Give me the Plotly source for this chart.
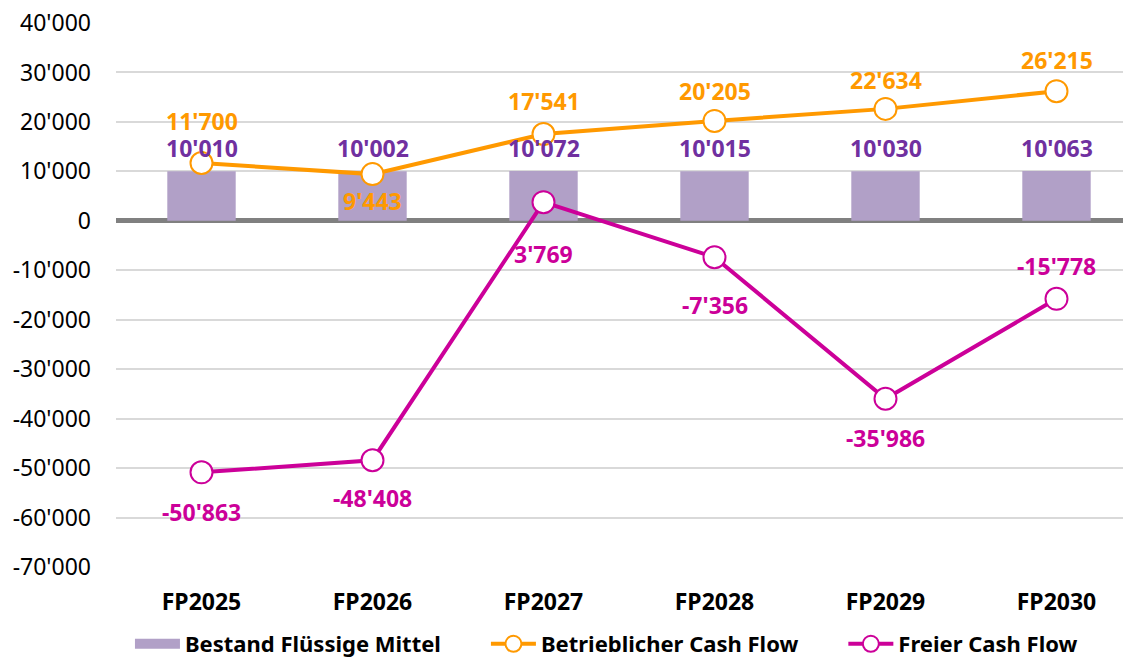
import plotly.graph_objects as go

categories = ["FP2025", "FP2026", "FP2027", "FP2028", "FP2029", "FP2030"]
bestand = [10010, 10002, 10072, 10015, 10030, 10063]
betrieb = [11700, 9443, 17541, 20205, 22634, 26215]
freier = [-50863, -48408, 3769, -7356, -35986, -15778]
tick_vals = [40000, 30000, 20000, 10000, 0, -10000, -20000, -30000, -40000, -50000, -60000, -70000]
series_names = ["Bestand Flüssige Mittel", "Betrieblicher Cash Flow", "Freier Cash Flow"]

# label offsets in pixels (positive = above)
betrieb_shift = [42, -27, 33, 30, 29, 31]
freier_shift = [-40, -38, -52, -48, -39, 33]

def fmt(v):
    s = f"{abs(v):,}".replace(",", "'")
    return ("-" if v < 0 else "") + s

FONT = "Noto Sans"
ORANGE = "#FF9900"
MAGENTA = "#CC0099"
PURPLE = "#7030A0"
BARCOL = "#B1A0C7"
PAD = "\u00a0" * 7  # spacing between legend entries

fig = go.Figure()
fig.add_trace(go.Bar(x=categories, y=bestand, name=series_names[0],
                     marker=dict(color=BARCOL, line=dict(width=0)), width=0.4,
                     showlegend=False, legendgroup="b"))
# legend entry for bars (wide swatch)
fig.add_trace(go.Scatter(x=[None], y=[None], name=series_names[0] + PAD, mode="lines",
                         line=dict(color=BARCOL, width=17), legendgroup="b"))
fig.add_trace(go.Scatter(x=categories, y=betrieb, name=series_names[1] + PAD,
                         mode="lines+markers", line=dict(color=ORANGE, width=4),
                         marker=dict(size=22, color="white", line=dict(color=ORANGE, width=2))))
fig.add_trace(go.Scatter(x=categories, y=freier, name=series_names[2],
                         mode="lines+markers", line=dict(color=MAGENTA, width=4),
                         marker=dict(size=22, color="white", line=dict(color=MAGENTA, width=2))))

ann = []
for c, v in zip(categories, bestand):
    ann.append(dict(x=c, y=v, text=f"<b>{fmt(v)}</b>", showarrow=False, yanchor="middle",
                    yshift=23, font=dict(color=PURPLE, size=23, family=FONT)))
for c, v, s in zip(categories, betrieb, betrieb_shift):
    ann.append(dict(x=c, y=v, text=f"<b>{fmt(v)}</b>", showarrow=False, yanchor="middle",
                    yshift=s, font=dict(color=ORANGE, size=23, family=FONT)))
for c, v, s in zip(categories, freier, freier_shift):
    ann.append(dict(x=c, y=v, text=f"<b>{fmt(v)}</b>", showarrow=False, yanchor="middle",
                    yshift=s, font=dict(color=MAGENTA, size=23, family=FONT)))

fig.update_layout(
    width=1123, height=657,
    margin=dict(l=108, r=0, t=15, b=98),
    plot_bgcolor="white", paper_bgcolor="white",
    font=dict(family=FONT, color="black", size=22),
    annotations=ann,
    showlegend=True,
    legend=dict(orientation="h", xref="container", yref="container",
                x=0.1086, xanchor="left", y=0.0, yanchor="bottom",
                bgcolor="rgba(0,0,0,0)",
                font=dict(size=22, family=FONT, weight="bold"), itemwidth=45,
                traceorder="normal"),
    xaxis=dict(range=[-0.5, -0.5 + 1015 / 171], showgrid=False, showline=False,
               ticks="", tickfont=dict(size=23, weight="bold"), ticklabelstandoff=19,
               fixedrange=True, automargin=False),
    yaxis=dict(range=[-70000, 40000], tickvals=tick_vals, ticktext=[fmt(v) for v in tick_vals],
               showgrid=True, gridcolor="#D9D9D9", gridwidth=1.5,
               zeroline=True, zerolinecolor="#808080", zerolinewidth=5,
               showline=False, ticks="", tickfont=dict(size=23), ticklabelstandoff=24,
               ticklabeloverflow="allow", automargin=False),
)

fig.write_html("out.html")
